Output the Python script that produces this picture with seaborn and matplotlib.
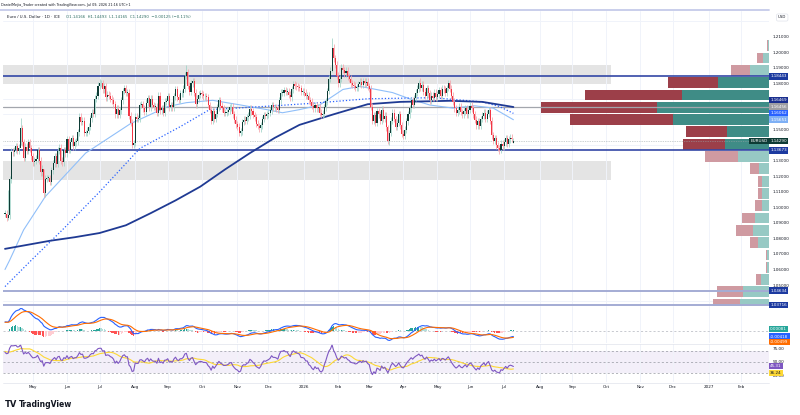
import numpy as np
import pandas as pd
import matplotlib
matplotlib.use("Agg")
import matplotlib.pyplot as plt
from matplotlib.lines import Line2D
import seaborn as sns

# ── data ─────────────────────────────────────────────────────────────────────
START   = "2025-04-07"      # first daily bar on screen
N_SLOTS = 494               # bars + empty future slots up to the right edge

# closes Feb 24 - Apr 4 2025: off screen, only used to seed MACD / RSI
WARMUP_CLOSE = [1.0460, 1.0515, 1.0485, 1.0400, 1.0375,
                1.0485, 1.0625, 1.0790, 1.0785, 1.0835,
                1.0830, 1.0920, 1.0890, 1.0855, 1.0880,
                1.0920, 1.0945, 1.0900, 1.0850, 1.0815,
                1.0800, 1.0790, 1.0755, 1.0800, 1.0830,
                1.0815, 1.0790, 1.0850, 1.1050, 1.0960]

CLOSE = (
    # Apr 2025
    [1.0960, 1.0935, 1.0950, 1.1180, 1.1360, 1.1355, 1.1370, 1.1395, 1.1365,
     1.1385, 1.1510, 1.1420, 1.1320, 1.1390, 1.1365, 1.1420, 1.1380, 1.1330]
    # May
    + [1.1290, 1.1300, 1.1315, 1.1370, 1.1300, 1.1225, 1.1250, 1.1090, 1.1185,
       1.1190, 1.1190, 1.1165, 1.1240, 1.1285, 1.1330, 1.1280, 1.1365, 1.1385,
       1.1300, 1.1290, 1.1370, 1.1350]
    # Jun
    + [1.1440, 1.1370, 1.1420, 1.1445, 1.1395, 1.1420, 1.1425, 1.1485, 1.1585,
       1.1550, 1.1560, 1.1480, 1.1480, 1.1495, 1.1520, 1.1575, 1.1610, 1.1605,
       1.1700, 1.1720, 1.1785]
    # Jul
    + [1.1800, 1.1800, 1.1760, 1.1780, 1.1710, 1.1725, 1.1720, 1.1700, 1.1690,
       1.1665, 1.1600, 1.1635, 1.1595, 1.1625, 1.1690, 1.1750, 1.1770, 1.1740,
       1.1740, 1.1590, 1.1545, 1.1405, 1.1415]
    # Aug
    + [1.1585, 1.1570, 1.1575, 1.1660, 1.1665, 1.1640, 1.1615, 1.1675, 1.1705,
       1.1645, 1.1700, 1.1660, 1.1650, 1.1650, 1.1610, 1.1720, 1.1625, 1.1640,
       1.1610, 1.1680, 1.1685]
    # Sep
    + [1.1715, 1.1645, 1.1660, 1.1645, 1.1715, 1.1760, 1.1710, 1.1695, 1.1735,
       1.1735, 1.1765, 1.1850, 1.1870, 1.1785, 1.1745, 1.1800, 1.1815, 1.1740,
       1.1665, 1.1700, 1.1725, 1.1735]
    # Oct
    + [1.1730, 1.1715, 1.1715, 1.1710, 1.1660, 1.1630, 1.1560, 1.1620, 1.1570,
       1.1605, 1.1645, 1.1690, 1.1655, 1.1640, 1.1610, 1.1610, 1.1615, 1.1625,
       1.1645, 1.1650, 1.1600, 1.1565, 1.1535]
    # Nov
    + [1.1520, 1.1480, 1.1490, 1.1550, 1.1565, 1.1560, 1.1580, 1.1590, 1.1635,
       1.1620, 1.1595, 1.1580, 1.1540, 1.1525, 1.1510, 1.1530, 1.1570, 1.1595,
       1.1590, 1.1600]
    # Dec
    + [1.1610, 1.1625, 1.1660, 1.1645, 1.1645, 1.1640, 1.1630, 1.1690, 1.1740,
       1.1740, 1.1755, 1.1745, 1.1745, 1.1725, 1.1710, 1.1760, 1.1795, 1.1785,
       1.1780, 1.1775, 1.1770, 1.1745, 1.1745]
    # Jan 2026
    + [1.1740, 1.1720, 1.1720, 1.1690, 1.1680, 1.1655, 1.1640, 1.1660, 1.1640,
       1.1645, 1.1610, 1.1595, 1.1605, 1.1645, 1.1685, 1.1750, 1.1830, 1.1880,
       1.2030, 1.1960, 1.1920, 1.1850]
    # Feb
    + [1.1800, 1.1830, 1.1900, 1.1885, 1.1865, 1.1880, 1.1845, 1.1830, 1.1800,
       1.1790, 1.1785, 1.1770, 1.1775, 1.1795, 1.1810, 1.1790, 1.1815, 1.1800,
       1.1810, 1.1780]
    # Mar
    + [1.1765, 1.1650, 1.1560, 1.1595, 1.1545, 1.1620, 1.1600, 1.1560, 1.1630,
       1.1570, 1.1590, 1.1515, 1.1425, 1.1480, 1.1560, 1.1610, 1.1570, 1.1520,
       1.1545, 1.1600, 1.1530, 1.1475]
    # Apr
    + [1.1460, 1.1500, 1.1555, 1.1600, 1.1640, 1.1690, 1.1660, 1.1705, 1.1740,
       1.1765, 1.1800, 1.1770, 1.1790, 1.1745, 1.1720, 1.1770, 1.1735, 1.1690,
       1.1720, 1.1705, 1.1740, 1.1710]
    # May
    + [1.1730, 1.1755, 1.1720, 1.1765, 1.1760, 1.1740, 1.1770, 1.1800, 1.1765,
       1.1720, 1.1680, 1.1640, 1.1610, 1.1625, 1.1650, 1.1615, 1.1600, 1.1620,
       1.1640, 1.1600, 1.1630]
    # Jun
    + [1.1655, 1.1640, 1.1600, 1.1565, 1.1530, 1.1555, 1.1525, 1.1570, 1.1590,
       1.1610, 1.1570, 1.1605, 1.1625, 1.1560, 1.1465, 1.1430, 1.1445, 1.1400,
       1.1385, 1.1370, 1.1410, 1.1395]
    # Jul 1-9
    + [1.1420, 1.1445, 1.1410, 1.1440, 1.1450, 1.14415, 1.14290]
)

WICK   = 0.0022                            # usual wick beyond the body
SPIKES = {2: (1.1110, 1.0920), 10: (1.1573, 1.1400), 25: (1.1250, 1.1065),
          61: (1.1830, 1.1760), 117: (1.1920, 1.1830), 211: (1.2090, 1.1870),
          247: (1.1530, 1.1410), 268: (1.1835, 1.1750), 319: (1.1400, 1.1345)}
LAST_OHLC  = (1.14166, 1.14493, 1.14165, 1.14290)
PREV_CLOSE = 1.14415

# moving averages, sampled along the drawn lines (bar index, price)
SMA50_X  = [0, 3, 12, 26, 52, 81, 105, 117, 134, 152, 169, 179, 190, 203, 218,
            229, 250, 261, 274, 289, 303, 315, 328]
SMA50    = [1.0600, 1.0660, 1.0855, 1.1070, 1.1350, 1.1540, 1.1650, 1.1675,
            1.1690, 1.1660, 1.1630, 1.1610, 1.1630, 1.1660, 1.1760, 1.1780,
            1.1740, 1.1700, 1.1660, 1.1640, 1.1655, 1.1640, 1.1565]
SMA100_X = [0, 17, 37, 61, 87, 113, 132, 166, 197, 234, 276, 308, 319, 328]
SMA100   = [1.0490, 1.0660, 1.0855, 1.1100, 1.1380, 1.1520, 1.1630, 1.1650,
            1.1670, 1.1700, 1.1707, 1.1680, 1.1650, 1.1606]
SMA200_X = [0, 29, 45, 61, 78, 94, 110, 126, 142, 158, 174, 190, 212, 234,
            255, 287, 308, 328]
SMA200   = [1.0733, 1.0785, 1.0808, 1.0835, 1.0885, 1.0963, 1.1045, 1.1134,
            1.1245, 1.1350, 1.1448, 1.1532, 1.1600, 1.1665, 1.1680, 1.1687,
            1.1680, 1.1647]

ZONES        = [(1.1797, 1.1918), (1.1177, 1.1296)]
ZONE_END     = 391                      # bar index where the grey boxes stop
LEVELS       = [1.18443, 1.13673]
LOW_LEVELS   = [1.04634, 1.03716]
GREY_LEVEL   = 1.16456

# volume profile, 22 rows from the bottom
VP_LOW, VP_STEP = 1.0337, 0.00793
VP_UP   = [29, 26, 8, 2, 2, 11, 16, 14, 7, 7, 7, 10, 31, 44, 42, 96, 112, 87,
           51, 19, 6, 0.5]
VP_DOWN = [27, 26, 5, 0.5, 0.5, 8, 17, 13, 7, 4, 4, 9, 33, 42, 41, 103, 116,
           97, 50, 19, 6, 1.5]
VALUE_AREA = range(13, 19)

PRICE_TICKS = [1.05, 1.06, 1.07, 1.08, 1.09, 1.10, 1.11, 1.12, 1.13, 1.15,
               1.18, 1.19, 1.20, 1.21]
LAST_MACD = ["0.00081", "-0.00418", "-0.00499"]
LAST_RSI  = ["45.31", "36.24"]

# ── style ────────────────────────────────────────────────────────────────────
W, H = 800, 415
BAR_PX, FIRST_BAR_PX = 1.55, 5
X0, X1 = (3 - FIRST_BAR_PX) / BAR_PX, (769 - FIRST_BAR_PX) / BAR_PX

UP, DOWN         = "#0d3b35", "#f23645"
WICK_UP, WICK_DN = "#9fd3c7", "#f5a3aa"
NAVY, BLUE, LIGHT = "#1f3a93", "#2962ff", "#90bff9"
GRID, TXT = "#f0f3fa", "#131722"

sns.set_theme(style="white")
plt.rcParams["font.family"] = ["DejaVu Sans"]

# ── derived series ───────────────────────────────────────────────────────────
close = np.array(CLOSE)
n = len(close)
idx = np.arange(n)
opn = np.r_[WARMUP_CLOSE[-1], close[:-1]]
opn[-1] = LAST_OHLC[0]
hi = np.maximum(opn, close) + WICK
lo = np.minimum(opn, close) - WICK
for k, (h, l) in SPIKES.items():
    hi[k], lo[k] = h, l
hi[-1], lo[-1] = LAST_OHLC[1], LAST_OHLC[2]
up = close >= opn

full = pd.Series(WARMUP_CLOSE + CLOSE)
macd_full = full.ewm(span=12, adjust=False).mean() - full.ewm(span=26, adjust=False).mean()
sig_full = macd_full.ewm(span=9, adjust=False).mean()
w0 = len(WARMUP_CLOSE)
macd = macd_full.iloc[w0:].to_numpy()
sig = sig_full.iloc[w0:].to_numpy()
hist = macd - sig

delta = full.diff()
gain = delta.clip(lower=0).ewm(alpha=1 / 14, adjust=False).mean()
loss = (-delta.clip(upper=0)).ewm(alpha=1 / 14, adjust=False).mean()
rsi_full = 100 - 100 / (1 + gain / loss)
rsi = rsi_full.iloc[w0:].to_numpy()
rsi_ma = rsi_full.rolling(14).mean().iloc[w0:].to_numpy()

dates = pd.bdate_range(START, periods=N_SLOTS)
month_pos, month_lbl = [], []
for i in range(1, N_SLOTS):
    if dates[i].month != dates[i - 1].month:
        month_pos.append(i)
        month_lbl.append(str(dates[i].year) if dates[i].month == 1 else dates[i].strftime("%b"))

# ── figure ───────────────────────────────────────────────────────────────────
fig = plt.figure(figsize=(W / 100, H / 100), dpi=100)


def pane(x0, y0, x1, y1):
    return fig.add_axes([x0 / W, 1 - y1 / H, (x1 - x0) / W, (y1 - y0) / H])


ax = pane(3, 11, 769, 306)
ax_macd = pane(3, 306, 769, 343)
ax_rsi = pane(3, 344, 769, 382)

for a in (ax, ax_macd, ax_rsi):
    a.set_xlim(X0, X1)
    for s in a.spines.values():
        s.set_visible(False)
    a.set_xticks(month_pos)
    a.grid(axis="x", color=GRID, lw=0.7, zorder=0)
    a.tick_params(axis="x", length=0, labelbottom=False)
    a.set_ylabel("")

# main pane
ax.set_ylim(1.03648, 1.22656)
ax.set_yticks(PRICE_TICKS)
ax.set_yticklabels([f"{v:.5f}" for v in PRICE_TICKS])
ax.set_yticks(np.round(np.arange(1.04, 1.225, 0.01), 2), minor=True)
ax.grid(axis="y", which="minor", color=GRID, lw=0.7, zorder=0)
ax.yaxis.tick_right()
ax.tick_params(axis="y", which="both", length=0, pad=2.5, labelsize=3, labelcolor=TXT)

for z_lo, z_hi in ZONES:
    ax.fill_between([X0, ZONE_END], z_lo, z_hi, color="#e4e4e4", lw=0, zorder=0.5)

# volume profile, anchored at the right edge
centers = VP_LOW + VP_STEP * (np.arange(len(VP_UP)) + 0.5)
up_w = np.array(VP_UP) / BAR_PX
dn_w = np.array(VP_DOWN) / BAR_PX
in_va = np.isin(np.arange(len(VP_UP)), list(VALUE_AREA))
ax.barh(centers, up_w, left=X1 - up_w, height=VP_STEP * 0.88,
        color=np.where(in_va, "#3f8c86", "#97c9c4"), lw=0, zorder=1)
ax.barh(centers, dn_w, left=X1 - up_w - dn_w, height=VP_STEP * 0.88,
        color=np.where(in_va, "#9c3f49", "#cf9aa1"), lw=0, zorder=1)

ax.axhline(GREY_LEVEL, color="#a3a6ad", lw=0.9, zorder=1.5)
for lv in LEVELS:
    ax.axhline(lv, color="#3347a6", lw=1.2, zorder=1.6)
for lv in LOW_LEVELS:
    ax.axhline(lv, color="#a4acd4", lw=1.4, zorder=1.6)
ax.axhline(close[-1], color="#9aa5a8", lw=0.5, ls=(0, (1, 1.5)), zorder=1.5)

sns.lineplot(x=SMA50_X, y=SMA50, ax=ax, color=LIGHT, lw=0.8, zorder=2)
sns.lineplot(x=SMA100_X, y=SMA100, ax=ax, color=BLUE, lw=0.9, ls=(0, (1, 1.6)), zorder=2)
sns.lineplot(x=SMA200_X, y=SMA200, ax=ax, color=NAVY, lw=1.3, zorder=2)

# candles
for mask, body_c, wick_c in ((up, UP, WICK_UP), (~up, DOWN, WICK_DN)):
    ax.vlines(idx[mask], lo[mask], hi[mask], color=wick_c, lw=0.55, zorder=3)
    body_lo = np.minimum(opn, close)[mask]
    body_h = np.maximum(np.abs(close - opn)[mask], 0.0004)
    ax.bar(idx[mask], body_h, bottom=body_lo, width=0.65, color=body_c, lw=0, zorder=3.2)


def tag(a, y, text, fc, tc="white", x=1.0015, transform=None):
    a.text(x, y, text, transform=transform or a.get_yaxis_transform(), ha="left",
           va="center", fontsize=3, color=tc, clip_on=False, zorder=10,
           bbox=dict(boxstyle="square,pad=0.3", fc=fc, ec="none"))


tag(ax, 1.18443, "1.18443", "#1c3aa0")
tag(ax, 1.1692, "1.16469", "#1a2f8f")
tag(ax, 1.1650, "1.16456", "#9e9ea3")
tag(ax, 1.1608, "1.16062", BLUE)
tag(ax, 1.1566, "1.15651", "#7fb0f5")
tag(ax, close[-1], "EURUSD", UP, x=0.9755)
tag(ax, close[-1], f"{close[-1]:.5f}", UP)
tag(ax, 1.13673, "1.13673", "#1c3aa0")
tag(ax, 1.04634, "1.04634", "#1c3aa0")
tag(ax, 1.03716, "1.03716", "#1c3aa0")

# MACD pane
prev = np.r_[hist[0], hist[:-1]]
h_col = np.where(hist >= 0, np.where(hist >= prev, "#26a69a", "#b2dfdb"),
                 np.where(hist < prev, "#ff5252", "#ffcdd2"))
ax_macd.bar(idx, hist, width=0.8, color=h_col, lw=0, zorder=2)
ax_macd.axhline(0, color="#b2b5be", lw=0.5, ls=(0, (3, 3)), zorder=1)
sns.lineplot(x=idx, y=macd, ax=ax_macd, color=BLUE, lw=0.8, zorder=3)
sns.lineplot(x=idx, y=sig, ax=ax_macd, color="#ff6d00", lw=0.8, zorder=3)
vals = np.r_[macd, sig, hist]
span = vals.max() - vals.min()
ax_macd.set_ylim(vals.min() - 0.08 * span, vals.max() + 0.08 * span)
ax_macd.set_yticks([])
tag(ax_macd, 0.38, LAST_MACD[0], "#26a69a", transform=ax_macd.transAxes)
tag(ax_macd, 0.17, LAST_MACD[1], BLUE, transform=ax_macd.transAxes)
tag(ax_macd, 0.03, LAST_MACD[2], "#ff6d00", transform=ax_macd.transAxes)

# RSI pane
ax_rsi.set_ylim(13.6, 82.7)
ax_rsi.axhspan(30, 70, color="#7e57c2", alpha=0.09, lw=0, zorder=0.5)
for lv in (70, 50, 30):
    ax_rsi.axhline(lv, color="#9598a1", lw=0.5, ls=(0, (3, 3)), zorder=1)
sns.lineplot(x=idx, y=rsi_ma, ax=ax_rsi, color="#fdd835", lw=0.8, zorder=2)
sns.lineplot(x=idx, y=rsi, ax=ax_rsi, color="#7e57c2", lw=0.8, zorder=3)
ax_rsi.set_yticks([75, 50, 25])
ax_rsi.set_yticklabels(["75.00", "50.00", "25.00"])
ax_rsi.yaxis.tick_right()
ax_rsi.tick_params(axis="y", length=0, pad=2.5, labelsize=3, labelcolor=TXT)
ax_rsi.set_xticklabels(month_lbl)
ax_rsi.tick_params(axis="x", labelbottom=True, labelsize=3, labelcolor=TXT, pad=2)
tag(ax_rsi, 0.42, LAST_RSI[0], "#7e57c2", transform=ax_rsi.transAxes)
tag(ax_rsi, 0.24, LAST_RSI[1], "#fdd835", tc=TXT, transform=ax_rsi.transAxes)

# separators and header
for y in (343.5, 382.5):
    fig.add_artist(Line2D([3 / W, 769 / W], [1 - y / H] * 2, color="#e0e3eb", lw=0.5))
fig.add_artist(Line2D([0, 769 / W], [1 - 10.5 / H] * 2, color="#c5cae9", lw=1.3))

o, h, l, c = LAST_OHLC
chg = c - PREV_CLOSE
ohlc = (f"O{o:.5f}  H{h:.5f}  L{l:.5f}  C{c:.5f}  {chg:+.5f} ({chg / PREV_CLOSE * 100:+.2f}%)"
        .replace("-", "\u2212"))
fig.text(1 / W, 1 - 5 / H,
         "DanielMejia_Trader created with TradingView.com, Jul 09, 2026 21:16 UTC+1",
         fontsize=2.4, color=TXT, va="center")
fig.text(7 / W, 1 - 16.5 / H, "Euro / U.S. Dollar · 1D · ICE", fontsize=2.8,
         color=TXT, va="center")
fig.text(66 / W, 1 - 16.5 / H, ohlc, fontsize=2.8, color="#2f6f63", va="center")
fig.text(778 / W, 1 - 17.5 / H, "USD", fontsize=2.8, color=TXT, va="center",
         bbox=dict(boxstyle="round,pad=0.4", fc="white", ec="#e0e3eb", lw=0.5))
fig.text(5 / W, 1 - 404 / H, "TV", fontsize=6, weight="heavy", color=TXT, va="center")
fig.text(19 / W, 1 - 404 / H, "TradingView", fontsize=5.5, weight="bold", color=TXT,
         va="center")

fig.savefig("out.png", dpi=100)
plt.close(fig)
